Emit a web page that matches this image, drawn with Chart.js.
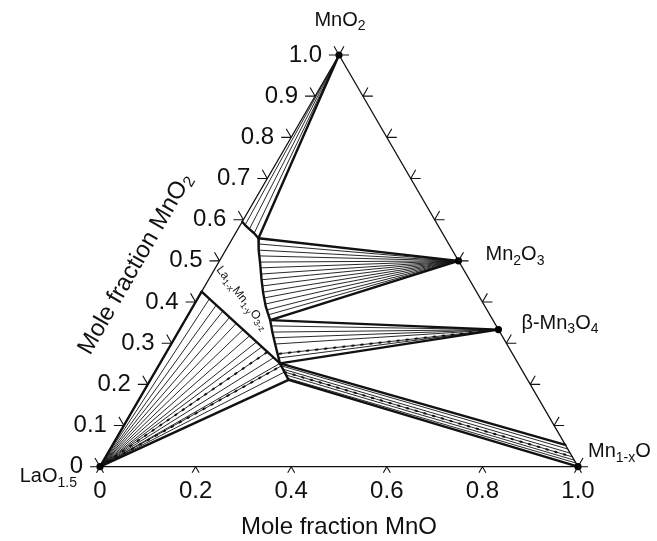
<!DOCTYPE html>
<html>
<head>
<meta charset="utf-8">
<script src="https://cdn.jsdelivr.net/npm/chart.js@4/dist/chart.umd.min.js"></script>
<style>
  html, body { margin: 0; padding: 0; background: #fff; }
  canvas { display: block; }
</style>
</head>
<body>
<canvas id="c" width="657" height="541"></canvas>
<script>
// Compositions are [MnO, MnO2] mole fractions; LaO1.5 = 1 - MnO - MnO2.
const cornerLaO = [0, 0];
const cornerMnO = [1, 0];
const cornerMnO2 = [0, 1];
const phaseMn2O3 = [0.5, 0.5];
const phaseMn3O4 = [0.667, 0.333];
const mnoLimit = [0.947, 0.053];

// La(1-x)Mn(1-y)O(3-z) homogeneity region
const perovTop = [[0, 0.595], [0.010, 0.587], [0.024, 0.577], [0.039, 0.567], [0.054, 0.555]];
const perovRight = [[0.054, 0.555], [0.069, 0.526], [0.088, 0.494], [0.111, 0.454], [0.131, 0.421],
  [0.153, 0.388], [0.178, 0.356], [0.197, 0.327], [0.216, 0.300], [0.233, 0.276], [0.251, 0.251]];
const perovLower = [[0, 0.425], [0.251, 0.251], [0.289, 0.211]];

// tie lines, grouped by the phase they end on
const tieMnO2 = [[0.010, 0.587], [0.024, 0.577], [0.039, 0.567]];
const tieMn2O3 = [[0.061, 0.541], [0.069, 0.526], [0.078, 0.512], [0.086, 0.497], [0.095, 0.483],
  [0.103, 0.468], [0.111, 0.454], [0.120, 0.439], [0.129, 0.424], [0.139, 0.410], [0.148, 0.395],
  [0.159, 0.381], [0.168, 0.369]];
const tieMn3O4 = [[0.187, 0.342], [0.197, 0.327], [0.207, 0.313], [0.218, 0.298], [0.235, 0.274], [0.242, 0.264]];
const dottedMn3O4 = [[0.235, 0.274]];
const tieLaO = [[0.025, 0.408], [0.047, 0.392], [0.068, 0.378], [0.090, 0.363], [0.111, 0.348],
  [0.133, 0.333], [0.154, 0.318], [0.176, 0.303], [0.193, 0.291], [0.211, 0.279], [0.231, 0.265],
  [0.251, 0.251], [0.257, 0.245], [0.271, 0.230]];
const dottedLaO = [[0.211, 0.279], [0.257, 0.245]];
const tieMnOFrom = [[0.257, 0.245], [0.264, 0.237], [0.271, 0.230], [0.277, 0.223], [0.284, 0.215]];
const tieMnOTo = [[0.957, 0.043], [0.967, 0.033], [0.976, 0.024], [0.984, 0.016], [0.991, 0.009]];
const dottedMnOIndex = 2;

// axis tick labels
const leftTickLabels = ['0', '0.1', '0.2', '0.3', '0.4', '0.5', '0.6', '0.7', '0.8', '0.9', '1.0'];
const bottomTickLabels = ['0', '0.2', '0.4', '0.6', '0.8', '1.0'];
const rightTickValues = [0, 0.1, 0.2, 0.3, 0.4, 0.5, 0.6, 0.7, 0.8, 0.9, 1.0];

const FONT = '"Liberation Sans", Arial, Helvetica, sans-serif';
const INK = '#111';

const toXY = ([a, b]) => ({ x: a + b / 2, y: b });

function lineSet(points, width, dash) {
  return {
    data: points.map(toXY),
    showLine: true,
    borderColor: INK,
    borderWidth: width,
    borderDash: dash || [],
    pointRadius: 0,
    pointHoverRadius: 0,
    fill: false,
    tension: 0,
    clip: false,
    borderCapStyle: 'round',
    borderJoinStyle: 'round'
  };
}

const THIN = 0.9, THICK = 2.4, EDGE = 1.3;
const datasets = [];

// phase points
datasets.push({
  data: [cornerLaO, cornerMnO, cornerMnO2, phaseMn2O3, phaseMn3O4].map(toXY),
  showLine: false,
  pointRadius: 3.6,
  pointBackgroundColor: '#000',
  pointBorderColor: '#000',
  pointBorderWidth: 0,
  clip: false
});

// triangle
datasets.push(lineSet([cornerLaO, cornerMnO, cornerMnO2, cornerLaO], EDGE));

// tie lines
tieMnO2.forEach(p => datasets.push(lineSet([cornerMnO2, p], THIN)));
tieMn2O3.forEach(p => datasets.push(lineSet([phaseMn2O3, p], THIN)));
tieMn3O4.forEach(p => datasets.push(lineSet([phaseMn3O4, p], THIN)));
dottedMn3O4.forEach(p => datasets.push(lineSet([phaseMn3O4, p], 2, [1.6, 7.5])));
tieLaO.forEach(p => datasets.push(lineSet([cornerLaO, p], THIN)));
dottedLaO.forEach(p => datasets.push(lineSet([cornerLaO, p], 2, [1.6, 7.5])));
tieMnOFrom.forEach((p, i) => datasets.push(lineSet([p, tieMnOTo[i]], THIN)));
datasets.push(lineSet([tieMnOFrom[dottedMnOIndex], tieMnOTo[dottedMnOIndex]], 2, [1.6, 7.5]));

// phase boundaries
datasets.push(lineSet(perovTop, THICK));
datasets.push(lineSet(perovRight, THICK));
datasets.push(lineSet(perovLower, THICK));
datasets.push(lineSet([cornerLaO, perovLower[0]], THICK));
datasets.push(lineSet([cornerMnO2, perovTop[perovTop.length - 1]], THICK));
datasets.push(lineSet([perovRight[0], phaseMn2O3], THICK));
datasets.push(lineSet([perovRight[6], phaseMn2O3], THICK));
datasets.push(lineSet([perovRight[6], phaseMn3O4], THICK));
datasets.push(lineSet([perovLower[1], phaseMn3O4], THICK));
datasets.push(lineSet([perovLower[1], mnoLimit], THICK));
datasets.push(lineSet([perovLower[2], cornerMnO], THICK));
datasets.push(lineSet([cornerLaO, perovLower[2]], THICK));

// text with subscripts: parts = [[text, isSub], ...]
function richWidth(ctx, parts, size, sub) {
  let w = 0;
  for (const [t, s] of parts) {
    ctx.font = (s ? sub : size) + 'px ' + FONT;
    w += ctx.measureText(t).width;
  }
  return w;
}
function drawRich(ctx, parts, x, y, o) {
  const size = o.size, sub = o.sub || Math.round(size * 0.7);
  const shift = o.shift != null ? o.shift : size * 0.28;
  const w = richWidth(ctx, parts, size, sub);
  ctx.save();
  ctx.translate(x, y);
  ctx.rotate((o.angle || 0) * Math.PI / 180);
  ctx.fillStyle = INK;
  ctx.textBaseline = 'middle';
  ctx.textAlign = 'left';
  let cx = o.align === 'center' ? -w / 2 : o.align === 'right' ? -w : 0;
  for (const [t, s] of parts) {
    ctx.font = (s ? sub : size) + 'px ' + FONT;
    ctx.fillText(t, cx, s ? shift : 0);
    cx += ctx.measureText(t).width;
  }
  ctx.restore();
}

const ternaryDecor = {
  id: 'ternaryDecor',
  afterDatasetsDraw(chart) {
    const ctx = chart.ctx;
    const xs = chart.scales.x, ys = chart.scales.y;
    const px = (c) => { const p = toXY(c); return [xs.getPixelForValue(p.x), ys.getPixelForValue(p.y)]; };
    const D = Math.PI / 180;
    const stroke = (x, y, len, ang) => {
      ctx.moveTo(x, y);
      ctx.lineTo(x + len * Math.cos(ang * D), y + len * Math.sin(ang * D));
    };

    ctx.save();
    ctx.strokeStyle = INK;
    ctx.lineWidth = 1.1;
    ctx.beginPath();
    // left edge: MnO2 fraction, ticks point left and up-left
    leftTickLabels.forEach(l => {
      const [x, y] = px([0, parseFloat(l)]);
      stroke(x, y, 10, 180);
      stroke(x, y, 10, 240);
    });
    // right edge: ticks point right and up-right
    rightTickValues.forEach(v => {
      const [x, y] = px([1 - v, v]);
      stroke(x, y, 10, 0);
      stroke(x, y, 10, 300);
    });
    // base: MnO fraction, ticks point down-left and down-right
    bottomTickLabels.forEach(l => {
      const [x, y] = px([parseFloat(l), 0]);
      stroke(x, y, 7, 60);
      stroke(x, y, 7, 120);
    });
    ctx.stroke();
    ctx.restore();

    // tick labels
    leftTickLabels.forEach(l => {
      const [x, y] = px([0, parseFloat(l)]);
      drawRich(ctx, [[l, 0]], x - 17, y, { size: 24, align: 'right' });
    });
    bottomTickLabels.forEach(l => {
      const [x, y] = px([parseFloat(l), 0]);
      drawRich(ctx, [[l, 0]], x, y + 25, { size: 24, align: 'center' });
    });

    // axis titles
    const [bx0] = px(cornerLaO), [bx1, by1] = px(cornerMnO);
    drawRich(ctx, [['Mole fraction MnO', 0]], (bx0 + bx1) / 2, by1 + 61, { size: 24, align: 'center' });
    const [lx, ly] = px([0, 0.5]);
    drawRich(ctx, [['Mole fraction MnO', 0], ['2', 1]], lx - 84, ly + 3,
      { size: 24, sub: 16, shift: 6, align: 'center', angle: -60 });

    // phase labels
    const lab = { size: 20, sub: 14, shift: 6 };
    let p;
    p = px(cornerMnO2);
    drawRich(ctx, [['MnO', 0], ['2', 1]], p[0] + 1, p[1] - 35, { ...lab, align: 'center' });
    p = px(phaseMn2O3);
    drawRich(ctx, [['Mn', 0], ['2', 1], ['O', 0], ['3', 1]], p[0] + 27, p[1] - 6, lab);
    p = px(phaseMn3O4);
    drawRich(ctx, [['β-Mn', 0], ['3', 1], ['O', 0], ['4', 1]], p[0] + 23, p[1] - 6, lab);
    p = px(cornerMnO);
    drawRich(ctx, [['Mn', 0], ['1-x', 1], ['O', 0]], p[0] + 10, p[1] - 15, lab);
    p = px(cornerLaO);
    drawRich(ctx, [['LaO', 0], ['1.5', 1]], p[0] - 23, p[1] + 10, { ...lab, align: 'right' });

    p = px(perovLower[0]);
    drawRich(ctx, [['La', 0], ['1-x', 1], ['Mn', 0], ['1-y', 1], ['O', 0], ['3-z', 1]],
      p[0] + 17, p[1] - 24, { size: 12, sub: 9, shift: 4, angle: 52 });
  }
};

new Chart(document.getElementById('c'), {
  type: 'scatter',
  data: { datasets },
  options: {
    responsive: false,
    animation: false,
    devicePixelRatio: 1,
    layout: { padding: { left: 100, right: 79, top: 55, bottom: 74.3 } },
    scales: {
      x: { type: 'linear', min: 0, max: 1, display: false },
      y: { type: 'linear', min: 0, max: 1, display: false }
    },
    plugins: { legend: { display: false }, tooltip: { enabled: false } },
    events: []
  },
  plugins: [ternaryDecor]
});
</script>
</body>
</html>
